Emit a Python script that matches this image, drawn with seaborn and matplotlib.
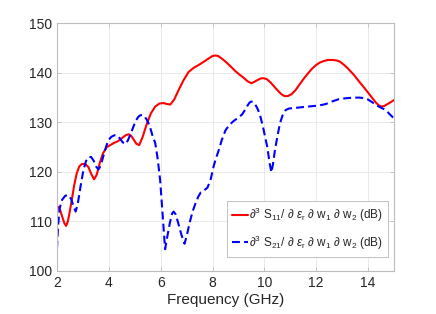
import numpy as np
import pandas as pd
import matplotlib
matplotlib.use("Agg")
import matplotlib.pyplot as plt
import seaborn as sns

# S11 derivative (red solid)
freq_s11 = [2.0, 2.06, 2.12, 2.2, 2.28, 2.35, 2.42, 2.5, 2.57, 2.66, 2.76, 2.86,
            2.96, 3.08, 3.21, 3.32, 3.43, 3.53, 3.66, 3.78, 3.92, 4.05, 4.18,
            4.35, 4.5, 4.65, 4.76, 4.86, 4.95, 5.06, 5.17, 5.3, 5.47, 5.62, 5.79,
            5.95, 6.11, 6.25, 6.37, 6.52, 6.69, 6.88, 7.08, 7.27, 7.47, 7.65,
            7.85, 8.0, 8.11, 8.22, 8.4, 8.6, 8.89, 9.05, 9.2, 9.35, 9.5, 9.62,
            9.75, 9.88, 9.98, 10.1, 10.25, 10.45, 10.65, 10.78, 10.9, 11.05, 11.2,
            11.35, 11.5, 11.7, 11.85, 12.0, 12.15, 12.3, 12.45, 12.63, 12.78,
            12.9, 13.05, 13.2, 13.45, 13.66, 13.85, 14.0, 14.15, 14.3, 14.42,
            14.52, 14.62, 14.75, 14.88, 15.0]
val_s11 = [113.0, 112.9, 112.3, 111.0, 109.7, 109.1, 110.0, 112.2, 114.3, 117.2,
           119.7, 121.1, 121.6, 121.6, 121.0, 119.6, 118.5, 119.4, 122.0, 123.8,
           125.0, 125.4, 125.8, 126.2, 126.8, 127.4, 127.6, 127.3, 126.6, 125.7,
           125.4, 127.0, 129.8, 131.8, 133.2, 133.8, 133.9, 133.7, 133.6, 134.6,
           136.5, 138.5, 140.2, 141.0, 141.6, 142.2, 142.9, 143.4, 143.5, 143.4,
           142.7, 141.8, 140.3, 139.6, 139.0, 138.3, 137.9, 138.2, 138.6, 138.9,
           138.9, 138.7, 138.0, 136.8, 135.7, 135.3, 135.3, 135.7, 136.5, 137.6,
           138.7, 140.0, 140.9, 141.6, 142.1, 142.4, 142.6, 142.6, 142.5, 142.3,
           141.7, 141.0, 139.6, 138.2, 137.0, 136.0, 135.0, 134.0, 133.4, 133.2,
           133.3, 133.7, 134.1, 134.5]

# S21 derivative (blue dashed)
freq_s21 = [2.0, 2.04, 2.1, 2.2, 2.32, 2.44, 2.55, 2.64, 2.72, 2.8, 2.9, 3.02,
            3.12, 3.22, 3.32, 3.42, 3.52, 3.6, 3.68, 3.8, 3.9, 3.98, 4.1, 4.22,
            4.31, 4.42, 4.53, 4.63, 4.73, 4.85, 5.02, 5.12, 5.2, 5.28, 5.38, 5.48,
            5.58, 5.68, 5.79, 5.88, 5.98, 6.08, 6.17, 6.25, 6.35, 6.44, 6.5, 6.58,
            6.68, 6.8, 6.92, 7.0, 7.12, 7.23, 7.34, 7.45, 7.55, 7.68, 7.8, 7.92,
            8.05, 8.15, 8.24, 8.36, 8.5, 8.65, 8.82, 8.98, 9.14, 9.25, 9.35, 9.43,
            9.49, 9.57, 9.65, 9.75, 9.85, 9.95, 10.03, 10.11, 10.2, 10.27, 10.33,
            10.41, 10.5, 10.6, 10.7, 10.82, 10.95, 11.15, 11.33, 11.7, 12.1,
            12.37, 12.6, 12.88, 13.2, 13.45, 13.66, 13.85, 14.0, 14.15, 14.3,
            14.45, 14.6, 14.75, 14.88, 15.0]
val_s21 = [104.5, 109.0, 112.6, 114.4, 115.2, 115.3, 114.5, 113.0, 112.0, 113.5,
           116.8, 120.4, 122.2, 123.0, 123.0, 122.2, 121.0, 120.5, 121.2, 123.4,
           125.2, 126.4, 127.1, 127.4, 127.4, 126.8, 126.0, 125.6, 126.3, 127.8,
           130.1, 131.0, 131.4, 131.5, 131.2, 130.4, 129.2, 127.4, 125.8, 122.8,
           118.3, 111.0, 104.4, 106.8, 109.6, 111.6, 112.0, 111.4, 109.6, 107.3,
           105.5, 107.0, 109.8, 112.0, 113.6, 115.0, 115.9, 116.3, 116.8, 118.3,
           121.3, 123.0, 124.4, 126.5, 128.4, 129.5, 130.3, 130.9, 131.6, 132.5,
           133.4, 134.0, 134.2, 134.1, 133.6, 132.6, 131.1, 129.0, 127.0, 125.1,
           121.8, 119.9, 121.5, 124.5, 127.1, 129.8, 131.4, 132.5, 132.8, 132.9,
           133.0, 133.2, 133.4, 133.7, 134.2, 134.7, 134.9, 135.0, 135.0, 134.9,
           134.6, 134.1, 133.5, 133.1, 132.7, 132.1, 131.4, 130.8]

label_s11 = (r'$\partial^3$ S$_{11}$/ $\partial$ $\epsilon_{\rm r}$ $\partial$ w$_1$'
             r' $\partial$ w$_2$ (dB)')
label_s21 = (r'$\partial^3$ S$_{21}$/ $\partial$ $\epsilon_{\rm r}$ $\partial$ w$_1$'
             r' $\partial$ w$_2$ (dB)')

x_ticks = [2, 4, 6, 8, 10, 12, 14]
y_ticks = [100, 110, 120, 130, 140, 150]

sns.set_style("white")
plt.rcParams['font.family'] = ['Liberation Sans', 'DejaVu Sans']
plt.rcParams['mathtext.fontset'] = 'custom'
plt.rcParams['mathtext.rm'] = 'Liberation Sans'
plt.rcParams['mathtext.it'] = 'Liberation Sans:italic'

df1 = pd.DataFrame({"f": freq_s11, "v": val_s11})
df2 = pd.DataFrame({"f": freq_s21, "v": val_s21})

fig = plt.figure(figsize=(4.36, 3.14), dpi=100)
ax = fig.add_axes([0.1307, 0.137, 0.773, 0.7888])

sns.lineplot(data=df1, x="f", y="v", ax=ax, color="#ff0000", lw=1.5,
             label=label_s11)
sns.lineplot(data=df2, x="f", y="v", ax=ax, color="#0000ff", lw=1.5,
             label=label_s21)
ax.lines[1].set_dashes([3.8, 2.0])

ax.set_xlim(2, 15)
ax.set_ylim(100, 150)
ax.set_xticks(x_ticks)
ax.set_yticks(y_ticks)
ax.set_xlabel("Frequency (GHz)", fontsize=11, color="#262626", labelpad=2)
ax.set_ylabel("")
ax.grid(True, color="#e6e6e6", lw=0.6)
ax.set_axisbelow(True)
for s in ax.spines.values():
    s.set_color("#bdbdbd")
    s.set_linewidth(0.8)
ax.tick_params(direction="in", length=3, width=0.6, colors="#bdbdbd",
               labelcolor="#262626", labelsize=10, top=True, right=True,
               bottom=True, left=True)

leg = ax.legend(loc="lower right", bbox_to_anchor=(0.982, 0.057), fontsize=8.5,
                frameon=True, fancybox=False, framealpha=1, edgecolor="#b8b8b8",
                handlelength=1.3, handletextpad=0.1, borderpad=0.45,
                labelspacing=0.75, borderaxespad=0.0)
leg.get_frame().set_linewidth(0.6)

fig.savefig("out.png", dpi=100)
